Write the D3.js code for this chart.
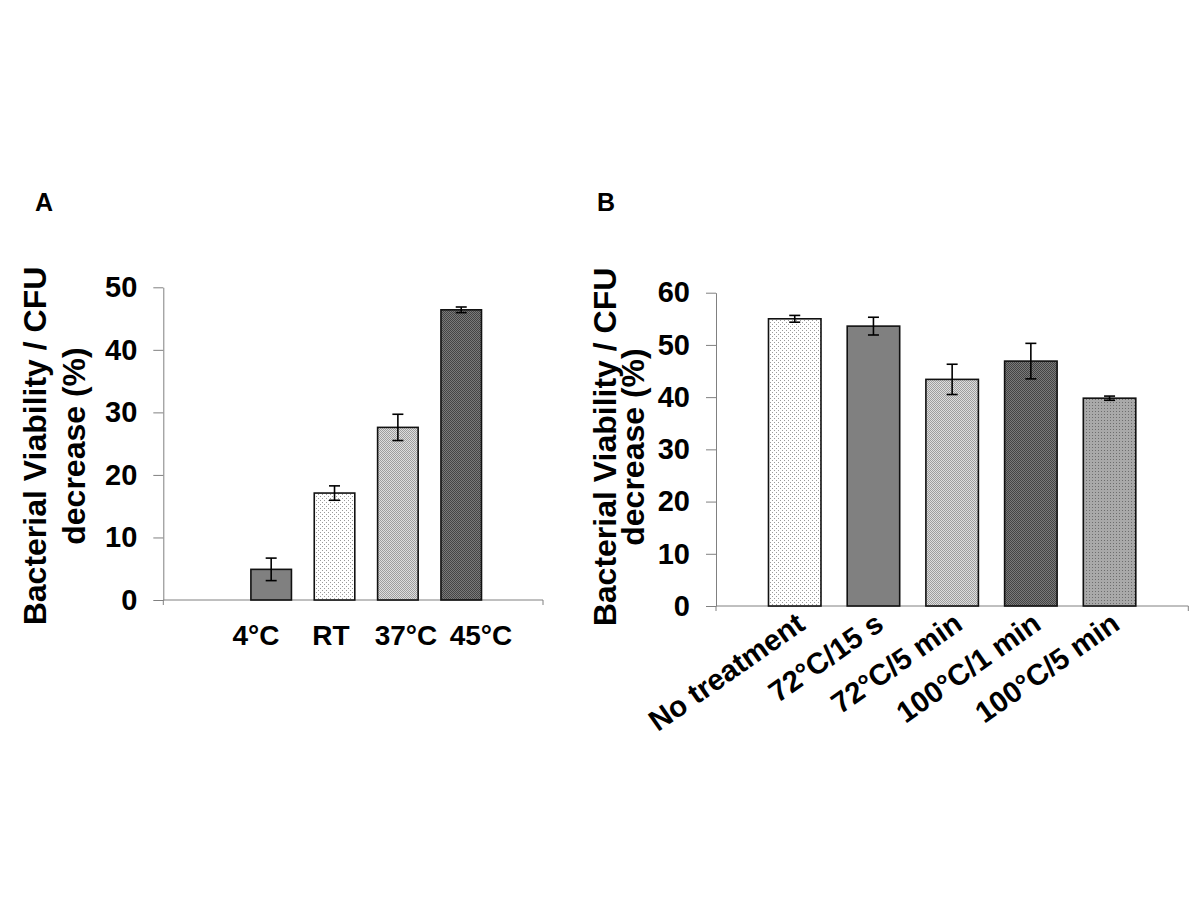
<!DOCTYPE html>
<html>
<head>
<meta charset="utf-8">
<script src="https://cdn.jsdelivr.net/npm/d3@7"></script>
<style>
  html, body { margin: 0; padding: 0; background: #fff; }
  svg text { font-family: "Liberation Sans", Arial, sans-serif; font-weight: bold; fill: #000; }
</style>
</head>
<body>
<svg id="chart" width="1200" height="900"></svg>
<script>
// Panel A: storage temperature
const catsA = ["4°C", "RT", "37°C", "45°C"];
const valsA = [4.9, 17.1, 27.6, 46.4];
const errA = [1.8, 1.15, 2.1, 0.45];
const ticksA = [0, 10, 20, 30, 40, 50];

// Panel B: heat treatment
const catsB = ["No treatment", "72°C/15 s", "72°C/5 min", "100°C/1 min", "100°C/5 min"];
const valsB = [55.0, 53.6, 43.4, 46.9, 39.8];
const errB = [0.65, 1.7, 2.9, 3.4, 0.4];
const ticksB = [0, 10, 20, 30, 40, 50, 60];

const yTitle = ["Bacterial Viability / CFU", "decrease (%)"];

// fill pattern per bar (styling, kept apart from the data)
const fillA = ["url(#solid)", "url(#dotsLight)", "url(#checkLight)", "url(#checkDark)"];
const fillB = ["url(#dotsLight)", "url(#solid)", "url(#checkLight)", "url(#checkDark)", "url(#dotsMid)"];

const svg = d3.select("#chart");
svg.append("rect").attr("width", 1200).attr("height", 900).attr("fill", "#fff");

// patterns
const defs = svg.append("defs");
function pattern(id, size, bg, fg, cells) {
  const p = defs.append("pattern").attr("id", id)
    .attr("patternUnits", "userSpaceOnUse").attr("width", size).attr("height", size);
  p.append("rect").attr("width", size).attr("height", size).attr("fill", bg);
  cells.forEach(c => p.append("rect").attr("x", c[0]).attr("y", c[1])
    .attr("width", 1).attr("height", 1).attr("fill", fg));
}
pattern("solid", 2, "#808080", "#808080", []);
pattern("dotsLight", 4, "#ffffff", "#9a9a9a", [[0, 0], [2, 2]]);
pattern("checkLight", 2, "#dedede", "#9e9e9e", [[0, 0], [1, 1]]);
pattern("checkDark", 2, "#7a7a7a", "#444444", [[0, 0], [1, 1]]);
pattern("dotsMid", 3, "#a9a9a9", "#6e6e6e", [[0, 0]]);

const axisGray = "#808080";

function panel(cfg) {
  const g = svg.append("g");

  // y axis
  const yAxis = g.append("g")
    .attr("transform", `translate(${cfg.axisX},0)`)
    .call(d3.axisLeft(cfg.y).tickValues(cfg.ticks).tickSize(10).tickSizeOuter(0).tickPadding(16));
  yAxis.select(".domain").attr("stroke", axisGray);
  yAxis.selectAll(".tick line").attr("stroke", axisGray);
  yAxis.selectAll(".tick text")
    .style("font-size", "29px").style("font-family", "'Liberation Sans', Arial, sans-serif")
    .style("font-weight", "bold").attr("fill", "#000");

  // x axis baseline with end ticks
  const y0 = cfg.y(0);
  g.append("line").attr("x1", cfg.axisX).attr("x2", cfg.axisEnd)
    .attr("y1", y0).attr("y2", y0).attr("stroke", axisGray);
  [cfg.axisX, cfg.axisEnd].forEach(xx => g.append("line")
    .attr("x1", xx).attr("x2", xx).attr("y1", y0).attr("y2", y0 + 5).attr("stroke", axisGray));

  // bars
  const x = cfg.x;
  g.selectAll("rect.bar").data(cfg.cats).join("rect")
    .attr("class", "bar")
    .attr("x", d => x(d))
    .attr("width", x.bandwidth())
    .attr("y", (d, i) => cfg.y(cfg.vals[i]))
    .attr("height", (d, i) => y0 - cfg.y(cfg.vals[i]))
    .attr("fill", (d, i) => cfg.fills[i])
    .attr("stroke", "#111").attr("stroke-width", 1.6);

  // error bars
  const cap = 5.5;
  const eb = g.selectAll("g.err").data(cfg.cats).join("g").attr("class", "err")
    .attr("stroke", "#000").attr("stroke-width", 1.6);
  eb.append("line")
    .attr("x1", d => x(d) + x.bandwidth() / 2).attr("x2", d => x(d) + x.bandwidth() / 2)
    .attr("y1", (d, i) => cfg.y(cfg.vals[i] + cfg.errs[i]))
    .attr("y2", (d, i) => cfg.y(cfg.vals[i] - cfg.errs[i]));
  [1, -1].forEach(sgn => eb.append("line")
    .attr("x1", d => x(d) + x.bandwidth() / 2 - cap).attr("x2", d => x(d) + x.bandwidth() / 2 + cap)
    .attr("y1", (d, i) => cfg.y(cfg.vals[i] + sgn * cfg.errs[i]))
    .attr("y2", (d, i) => cfg.y(cfg.vals[i] + sgn * cfg.errs[i])));

  // y title (two rotated lines)
  yTitle.forEach((t, i) => g.append("text")
    .attr("transform", `translate(${cfg.titleX[i]},${cfg.titleY}) rotate(-90)`)
    .attr("text-anchor", "middle")
    .style("font-size", "32px")
    .text(t));

  // panel letter
  g.append("text").attr("x", cfg.letterX).attr("y", 211)
    .style("font-size", "25px").text(cfg.letter);
  return g;
}

// Panel A
const yA = d3.scaleLinear().domain([0, 50]).range([600, 287.3]);
const xA = d3.scaleBand().domain(catsA).range([239.5, 492.9]).paddingInner(0.36).paddingOuter(0.18);
const gA = panel({
  cats: catsA, vals: valsA, errs: errA, ticks: ticksA, fills: fillA,
  x: xA, y: yA, axisX: 163.3, axisEnd: 543,
  titleX: [46, 85], titleY: 446, letter: "A", letterX: 35
});
const labelA = d3.scalePoint().domain(catsA).range([256, 481]);
gA.selectAll("text.xl").data(catsA).join("text")
  .attr("class", "xl")
  .attr("x", d => labelA(d)).attr("y", 645)
  .attr("text-anchor", "middle")
  .style("font-size", "28px")
  .text(d => d);

// Panel B
const yB = d3.scaleLinear().domain([0, 60]).range([606, 292.7]);
const xB = d3.scaleBand().domain(catsB).range([716, 1188.3]).paddingInner(0.333).paddingOuter(0.667);
const gB = panel({
  cats: catsB, vals: valsB, errs: errB, ticks: ticksB, fills: fillB,
  x: xB, y: yB, axisX: 716, axisEnd: 1188.3,
  titleX: [616, 644], titleY: 447, letter: "B", letterX: 597
});
gB.selectAll("text.xl").data(catsB).join("text")
  .attr("class", "xl")
  .attr("transform", d => `translate(${xB(d) + xB.bandwidth() / 2 + 12},628) rotate(-35)`)
  .attr("text-anchor", "end")
  .style("font-size", "29.5px")
  .text(d => d);
</script>
</body>
</html>
